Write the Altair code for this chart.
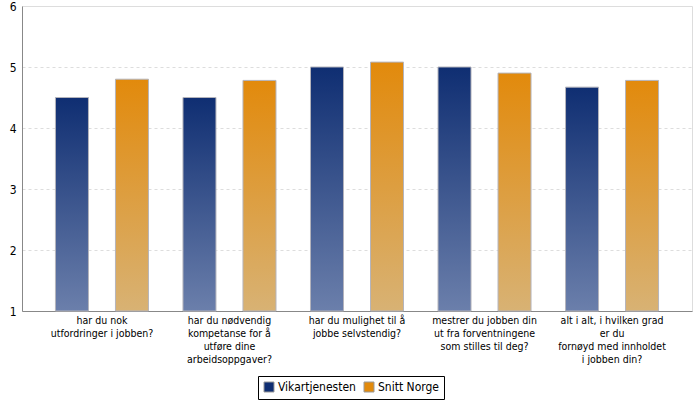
import altair as alt
import pandas as pd

questions = [
    "har du nok|utfordringer i jobben?",
    "har du nødvendig|kompetanse for å|utføre dine|arbeidsoppgaver?",
    "har du mulighet til å|jobbe selvstendig?",
    "mestrer du jobben din|ut fra forventningene|som stilles til deg?",
    "alt i alt, i hvilken grad|er du|fornøyd med innholdet|i jobben din?",
]
series = ["Vikartjenesten", "Snitt Norge"]
vikar = [4.5, 4.5, 5.0, 5.0, 4.67]
snitt = [4.8, 4.78, 5.08, 4.9, 4.78]
legend_colors = ["#0f2e72", "#e28a0c"]

rows = []
for q, v, s in zip(questions, vikar, snitt):
    rows.append({"q": q, "series": series[0], "value": v})
    rows.append({"q": q, "series": series[1], "value": s})
df = pd.DataFrame(rows)

FONT = "DejaVu Sans Condensed, DejaVu Sans"

xenc = alt.X(
    "q:N",
    sort=questions,
    scale=alt.Scale(paddingInner=0, paddingOuter=0.127),
    axis=alt.Axis(
        title=None,
        labelExpr="split(datum.label, '|')",
        labelAngle=0,
        labelFont=FONT,
        labelFontSize=10.5,
        labelColor="black",
        labelLineHeight=13,
        labelPadding=4,
        ticks=False,
        domainColor="#888888",
        grid=False,
        labelLimit=200,
    ),
)
xoff = alt.XOffset(
    "series:N",
    sort=series,
    scale=alt.Scale(domain=series, paddingInner=0.45, paddingOuter=0.2875),
)
yenc = alt.Y(
    "value:Q",
    scale=alt.Scale(domain=[1, 6], zero=False, nice=False),
    axis=alt.Axis(
        title=None,
        values=[1, 2, 3, 4, 5, 6],
        ticks=False,
        labelFont=FONT,
        labelFontSize=12,
        labelColor="black",
        labelPadding=6,
        domainColor="#888888",
        gridColor="#dddddd",
        gridDash=[3, 3],
    ),
)

grad_v = alt.Gradient(
    gradient="linear", x1=0, x2=0, y1=0, y2=1,
    stops=[alt.GradientStop(color="#0f2e72", offset=0),
           alt.GradientStop(color="#6b7fab", offset=1)],
)
grad_s = alt.Gradient(
    gradient="linear", x1=0, x2=0, y1=0, y2=1,
    stops=[alt.GradientStop(color="#e28a0c", offset=0),
           alt.GradientStop(color="#d8b274", offset=1)],
)

base = alt.Chart(df)
bars_v = base.transform_filter(alt.datum.series == series[0]).mark_bar(
    fill=grad_v, stroke="#b4b4bc", strokeWidth=1
).encode(x=xenc, xOffset=xoff, y=yenc, y2=alt.datum(1))
bars_s = base.transform_filter(alt.datum.series == series[1]).mark_bar(
    fill=grad_s, stroke="#b4b4bc", strokeWidth=1
).encode(x=xenc, xOffset=xoff, y=yenc, y2=alt.datum(1))

legend_layer = base.mark_square(opacity=0, size=1).encode(
    x=xenc,
    y=yenc,
    color=alt.Color(
        "series:N",
        sort=series,
        scale=alt.Scale(domain=series, range=legend_colors),
        legend=alt.Legend(
            title=None,
            orient="none",
            direction="horizontal",
            legendX=236,
            legendY=370,
            symbolType="square",
            symbolSize=100,
            symbolOpacity=1,
            symbolStrokeColor="#999999",
            symbolStrokeWidth=1,
            labelFont=FONT,
            labelFontSize=12,
            labelColor="black",
            strokeColor="black",
            padding=5,
            columnPadding=6,
            labelOffset=3,
        ),
    ),
)

chart = alt.layer(bars_v, bars_s, legend_layer).properties(
    width=670,
    height=305,
    padding={"left": 22, "top": 6, "right": 8, "bottom": 89},
    autosize=alt.AutoSizeParams(type="none"),
).configure_view(stroke="#bbbbbb").configure(background="white")

chart.save("out.html", embed_options={"renderer": "svg", "actions": False})
